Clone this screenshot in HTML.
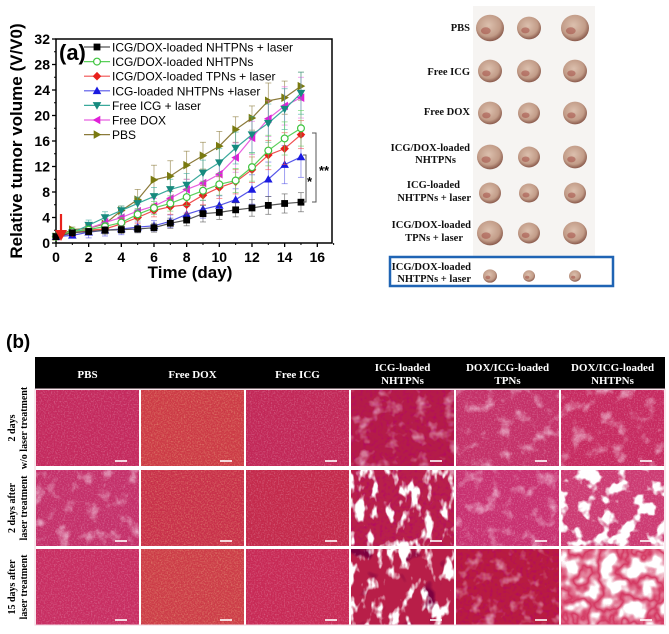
<!DOCTYPE html>
<html><head><meta charset="utf-8"><style>
html,body{margin:0;padding:0;background:#fff;}
body{width:669px;height:634px;overflow:hidden;position:relative;font-family:"Liberation Sans",sans-serif;}
svg{position:absolute;left:0;top:0;}
</style></head><body>
<svg id="fig" width="669" height="634" viewBox="0 0 669 634" xmlns="http://www.w3.org/2000/svg">
<defs>
 <filter id="speck" x="0" y="0" width="1" height="1">
  <feTurbulence type="fractalNoise" baseFrequency="0.7" numOctaves="2" seed="3"/>
  <feColorMatrix type="matrix" values="0 0 0 0 1  0 0 0 0 0.9  0 0 0 0 0.95  1.2 0 0 0 -0.55"/>
 </filter>
 <filter id="speckY" x="0" y="0" width="1" height="1">
  <feTurbulence type="fractalNoise" baseFrequency="0.7" numOctaves="2" seed="7"/>
  <feColorMatrix type="matrix" values="0 0 0 0 1  0 0 0 0 0.85  0 0 0 0 0.4  1.4 0 0 0 -0.6"/>
 </filter>
 <filter id="dark" x="0" y="0" width="1" height="1">
  <feTurbulence type="fractalNoise" baseFrequency="0.3" numOctaves="2" seed="11"/>
  <feColorMatrix type="matrix" values="0 0 0 0 0.45  0 0 0 0 0  0 0 0 0 0.15  1.6 0 0 0 -0.75"/>
 </filter>
 <filter id="mild" x="0" y="0" width="1" height="1">
  <feTurbulence type="fractalNoise" baseFrequency="0.07" numOctaves="3" seed="5"/>
  <feColorMatrix type="matrix" values="0 0 0 0 0.95  0 0 0 0 0.8  0 0 0 0 0.9  3 0 0 0 -1.6"/>
 </filter>
 <filter id="heavy" x="0" y="0" width="1" height="1">
  <feTurbulence type="fractalNoise" baseFrequency="0.09 0.05" numOctaves="3" seed="9"/>
  <feColorMatrix type="matrix" values="0 0 0 0 1  0 0 0 0 1  0 0 0 0 1  7 0 0 0 -3.7"/>
 </filter>
 <filter id="heavy2" x="0" y="0" width="1" height="1">
  <feTurbulence type="fractalNoise" baseFrequency="0.06" numOctaves="3" seed="21"/>
  <feColorMatrix type="matrix" values="0 0 0 0 1  0 0 0 0 1  0 0 0 0 1  8 0 0 0 -4.1"/>
 </filter>
 <filter id="blackb" x="0" y="0" width="1" height="1">
  <feTurbulence type="fractalNoise" baseFrequency="0.05" numOctaves="2" seed="31"/>
  <feColorMatrix type="matrix" values="0 0 0 0 0.2  0 0 0 0 0  0 0 0 0 0.05  7 0 0 0 -4.1"/>
 </filter>
 <filter id="net" x="0" y="0" width="1" height="1">
  <feTurbulence type="fractalNoise" baseFrequency="0.045" numOctaves="3" seed="41"/>
  <feColorMatrix type="matrix" values="0 0 0 0 0.66  0 0 0 0 0.04  0 0 0 0 0.12  1 0 0 0 0"/>
  <feComponentTransfer><feFuncA type="table" tableValues="0 0 0 0 0.6 1 0.6 0 0 0 0"/></feComponentTransfer>
 </filter>
 <radialGradient id="tum" cx="0.45" cy="0.4" r="0.6">
  <stop offset="0" stop-color="#dcc0ae"/><stop offset="0.7" stop-color="#c29c88"/><stop offset="1" stop-color="#8a5a4c"/>
 </radialGradient>
</defs>

<g id="chart">
 <rect x="56" y="39" width="276" height="204" fill="none" stroke="#000" stroke-width="1.5"/>
 <g id="yticks"></g>
 <g id="xticks"></g>
 <g id="series"></g>
 <text x="22" y="141" transform="rotate(-90 22 141)" text-anchor="middle" font-size="17" font-weight="bold">Relative tumor volume (V/V0)</text>
 <text x="190" y="278" text-anchor="middle" font-size="17" font-weight="bold">Time (day)</text>
 <text x="59" y="60" font-size="22" font-weight="bold">(a)</text>
 <g id="legend"></g>
 <g>
  <line x1="61" y1="214" x2="61" y2="234" stroke="#e8221c" stroke-width="2.2"/>
  <polygon points="55,230 67,230 61,241" fill="#e8221c"/>
 </g>
 <g id="sig"></g>
</g>

<g id="photos">
 <rect x="473" y="6" width="122" height="250" fill="#f6f4f2"/>
 <rect x="390" y="257" width="223" height="29" fill="none" stroke="#1f64b4" stroke-width="2.5"/>
 <g font-family="Liberation Serif, serif" font-weight="bold" font-size="10.5" text-anchor="end" fill="#111">
  <text x="470" y="31">PBS</text>
  <text x="470" y="75">Free ICG</text>
  <text x="470" y="115">Free DOX</text>
  <text x="470" y="151">ICG/DOX-loaded</text>
  <text x="456" y="163">NHTPNs</text>
  <text x="460" y="188">ICG-loaded</text>
  <text x="471" y="201">NHTPNs + laser</text>
  <text x="471" y="228">ICG/DOX-loaded</text>
  <text x="463" y="241">TPNs + laser</text>
  <text x="471" y="270">ICG/DOX-loaded</text>
  <text x="471" y="282">NHTPNs + laser</text>
 </g>
 <g id="tumors"></g>
</g>

<text x="6" y="348" font-size="19" font-weight="bold">(b)</text>
<g id="histo"></g>
</svg>

<script>
const days = [0,1,2,3,4,5,6,7,8,9,10,11,12,13,14,15];
const seriesNames = ["ICG/DOX-loaded NHTPNs + laser","ICG/DOX-loaded NHTPNs","ICG/DOX-loaded TPNs + laser","ICG-loaded NHTPNs +laser","Free ICG + laser","Free DOX","PBS"];
const valsNHTPNsLaser = [1,1.6,1.8,2.0,2.1,2.2,2.4,3.1,3.6,4.6,4.8,5.2,5.5,5.9,6.2,6.4];
const valsNHTPNs = [1,1.8,2.1,2.6,3.2,4.5,5.5,6.2,7.2,8.2,9.2,9.8,11.9,14.5,16.4,18.0];
const valsTPNsLaser = [1,1.6,2.0,2.2,3.0,4.0,5.1,5.7,6.0,7.5,8.7,9.6,11.5,13.8,14.8,17.0];
const valsICGNHTPNsLaser = [1,1.2,1.7,2.0,2.2,2.5,2.7,3.4,4.5,5.3,5.9,6.8,8.4,10.0,12.3,13.5];
const valsFreeICGLaser = [1,1.6,2.8,4.0,5.1,6.2,7.3,8.4,9.1,11.0,12.6,14.9,17.0,18.8,21.0,23.5];
const valsFreeDOX = [1,1.5,2.3,3.2,4.0,5.0,5.8,7.0,8.4,9.4,10.8,13.4,16.5,19.5,21.5,22.8];
const valsPBS = [1,2.1,2.3,3.0,5.1,6.8,9.9,10.5,12.2,13.7,15.2,17.8,19.6,22.3,22.8,24.6];
const errNHTPNsLaser = [0,0.3,0.5,0.6,0.6,0.6,0.7,0.8,0.9,1.3,1.1,1.1,1.3,1.4,1.5,1.5];
const errNHTPNs = [0,0.3,0.5,0.6,0.8,0.9,1.0,1.2,1.3,1.5,1.7,1.9,2.2,2.4,2.6,2.8];
const errTPNsLaser = [0,0.3,0.5,0.6,0.8,0.9,1.0,1.2,1.3,1.5,1.7,1.9,2.0,2.3,2.5,2.2];
const errICGNHTPNsLaser = [0,0.3,0.9,0.9,0.9,0.8,0.8,1.0,1.2,1.4,1.5,1.7,2.3,2.7,3.0,3.2];
const errFreeICGLaser = [0,0.4,0.8,0.9,0.7,1.0,1.4,1.6,1.8,2.0,2.2,2.5,2.8,3.0,3.2,3.3];
const errFreeDOX = [0,0.3,0.5,0.7,0.9,1.0,1.2,1.4,1.6,1.8,2.0,2.3,2.6,2.8,3.0,3.2];
const errPBS = [0,0.4,0.6,0.8,0.7,1.6,2.3,2.4,2.2,2.1,2.3,2.0,1.9,2.8,2.6,2.2];
const yTickLabels = [0,4,8,12,16,20,24,28,32];
const xTickLabels = [0,2,4,6,8,10,12,14,16];

const allVals = [valsNHTPNsLaser,valsNHTPNs,valsTPNsLaser,valsICGNHTPNsLaser,valsFreeICGLaser,valsFreeDOX,valsPBS];
const allErr = [errNHTPNsLaser,errNHTPNs,errTPNsLaser,errICGNHTPNsLaser,errFreeICGLaser,errFreeDOX,errPBS];
const styles = [
 {c:"#000",lc:"#555",m:"sq"},{c:"#3ec43e",lc:"#5ad05a",m:"oc"},{c:"#e8201c",lc:"#f05050",m:"di"},
 {c:"#1a1ae0",lc:"#5555e8",m:"tu"},{c:"#168a7e",lc:"#3aa99c",m:"td"},{c:"#e020d8",lc:"#e860e0",m:"tl"},{c:"#7a7a10",lc:"#8b7a3a",m:"tr"}];
const NS="http://www.w3.org/2000/svg";
const X0=56,X1=332,Y0=243,Y1=39,XMAX=16.9,YMAX=32;
function xs(v){return X0+(X1-X0)*v/XMAX;}
function ys(v){return Y0-(Y0-Y1)*v/YMAX;}
function mk(tag,attrs,parent){const e=document.createElementNS(NS,tag);for(const k in attrs)e.setAttribute(k,attrs[k]);parent.appendChild(e);return e;}
function marker(type,x,y,col,parent){
 const s=3.4;let e;
 if(type==="sq")e=mk("rect",{x:x-s,y:y-s,width:2*s,height:2*s,fill:col},parent);
 else if(type==="oc")e=mk("circle",{cx:x,cy:y,r:s,fill:"#fff",stroke:col,"stroke-width":1.2},parent);
 else if(type==="di")e=mk("polygon",{points:`${x},${y-4.3} ${x+4.3},${y} ${x},${y+4.3} ${x-4.3},${y}`,fill:col},parent);
 else if(type==="tu")e=mk("polygon",{points:`${x},${y-4.3} ${x+4.3},${y+3.3} ${x-4.3},${y+3.3}`,fill:col},parent);
 else if(type==="td")e=mk("polygon",{points:`${x},${y+4.3} ${x+4.3},${y-3.3} ${x-4.3},${y-3.3}`,fill:col},parent);
 else if(type==="tl")e=mk("polygon",{points:`${x-4.3},${y} ${x+3.3},${y-4.3} ${x+3.3},${y+4.3}`,fill:col},parent);
 else e=mk("polygon",{points:`${x+4.3},${y} ${x-3.3},${y-4.3} ${x-3.3},${y+4.3}`,fill:col},parent);
 return e;
}
const yt=document.getElementById("yticks");
yTickLabels.forEach(v=>{
 const l=mk("line",{x1:X0,x2:X0-4,y1:ys(v),y2:ys(v),stroke:"#000","stroke-width":1.3},yt);
 
 
 const t=mk("text",{x:X0-6,y:ys(v)+5,"text-anchor":"end","font-size":14,"font-weight":"bold"},yt);
 t.textContent=v;
 
 
 if(v<32){mk("line",{x1:X0,x2:X0-2,y1:ys(v+2),y2:ys(v+2),stroke:"#000"},yt);}
});
const xt=document.getElementById("xticks");
xTickLabels.forEach(v=>{
 const l=mk("line",{x1:xs(v),x2:xs(v),y1:Y0,y2:Y0+4,stroke:"#000","stroke-width":1.3},xt);
 
 
 mk("line",{x1:xs(v+1),x2:xs(v+1),y1:Y0,y2:Y0+2,stroke:"#000"},xt);
 const t=mk("text",{x:xs(v),y:Y0+19,"text-anchor":"middle","font-size":14,"font-weight":"bold"},xt);
 t.textContent=v;
 
 
});
const sg=document.getElementById("series");
for(let i=allVals.length-1;i>=0;i--){
 const g=mk("g",{},sg);
 
 
 const st=styles[i],vals=allVals[i],err=allErr[i];
 days.forEach((d,j)=>{ if(err[j]>0){
  const x=xs(d);
  mk("line",{x1:x,x2:x,y1:ys(vals[j]-err[j]),y2:ys(vals[j]+err[j]),stroke:st.lc,"stroke-width":0.8,opacity:0.7},g);
  mk("line",{x1:x-3,x2:x+3,y1:ys(vals[j]+err[j]),y2:ys(vals[j]+err[j]),stroke:st.lc,"stroke-width":0.8,opacity:0.7},g);
  mk("line",{x1:x-3,x2:x+3,y1:ys(vals[j]-err[j]),y2:ys(vals[j]-err[j]),stroke:st.lc,"stroke-width":0.8,opacity:0.7},g);
 }});
 const pl=mk("polyline",{points:days.map((d,j)=>xs(d)+","+ys(vals[j])).join(" "),fill:"none",stroke:st.lc,"stroke-width":1.2},g);
 
 
 days.forEach((d,j)=>{
  const m=marker(st.m,xs(d),ys(vals[j]),st.c,g);
  
  
 });
}
const lg=document.getElementById("legend");
seriesNames.forEach((n,i)=>{
 const y=47+14.6*i;
 const g=mk("g",{},lg);
 
 
 mk("line",{x1:84,x2:110,y1:y,y2:y,stroke:styles[i].lc,"stroke-width":1.2},g);
 marker(styles[i].m,97,y,styles[i].c,g);
 const t=mk("text",{x:112,y:y+4.5,"font-size":12},g);
 t.textContent=n;
});
const sig=document.getElementById("sig");
mk("path",{d:"M312,133 L316,133 L316,202 L312,202",fill:"none",stroke:"#555","stroke-width":1},sig);
mk("path",{d:"M303,155 L306,155 L306,202 L303,202",fill:"none",stroke:"#555","stroke-width":1},sig);
let t1=mk("text",{x:319,y:175,"font-size":13,"font-weight":"bold"},sig);t1.textContent="**";
let t2=mk("text",{x:307,y:186,"font-size":13,"font-weight":"bold"},sig);t2.textContent="*";

const tum=document.getElementById("tumors");
const tumorRows=[[28,[14,12,14]],[71,[12,12,12]],[113,[12,11,12]],[157,[13,11,12]],[193,[11,10,11]],[233,[13,11,12]],[276,[7,6,6]]];
const tumorCols=[490,529,575];
tumorRows.forEach((r,ri)=>{
 tumorCols.forEach((cx,ci)=>{
  const rad=r[1][ci];
  const e=mk("ellipse",{cx:cx,cy:r[0],rx:rad,ry:rad*0.95,fill:"url(#tum)"},tum);
  
  
  mk("ellipse",{cx:cx-rad*0.3,cy:r[0]+rad*0.2,rx:rad*0.35,ry:rad*0.25,fill:"#a0443c",opacity:0.5},tum);
 });
});

const H=document.getElementById("histo");
const colNames=[["PBS"],["Free DOX"],["Free ICG"],["ICG-loaded","NHTPNs"],["DOX/ICG-loaded","TPNs"],["DOX/ICG-loaded","NHTPNs"]];
const rowNames=[["2 days","w/o laser treatment"],["2 days after","laser treatment"],["15 days after","laser treatment"]];
const cx0=35,cw=105,rowY=[389,469,548],rh=78;
const hdr=mk("rect",{x:cx0,y:357,width:cw*6,height:32,fill:"#000"},H);


colNames.forEach((n,i)=>{
 const t=mk("text",{x:cx0+cw*i+cw/2,y:n.length===1?378:371,"text-anchor":"middle","font-family":"Liberation Serif, serif","font-weight":"bold","font-size":11,fill:"#fff"},H);
 
 
 n.forEach((s,k)=>{const ts=mk("tspan",{x:cx0+cw*i+cw/2,dy:k?13:0},t);ts.textContent=s;});
});
rowNames.forEach((n,r)=>{
 const cy=rowY[r]+rh/2;
 const t=mk("text",{transform:`translate(15 ${cy}) rotate(-90)`,"text-anchor":"middle","font-family":"Liberation Serif, serif","font-weight":"bold","font-size":10},H);
 
 
 n.forEach((s,k)=>{const ts=mk("tspan",{x:0,y:k?12:0},t);ts.textContent=s;});
});
const cellBase=[["#c42a5e","#cc3a46","#c22858","#b41c48","#c43068","#c62a60"],
 ["#c4306a","#c8304a","#c42a4c","#b8204a","#c83070","#cc3a72"],
 ["#c82e62","#cc3c48","#c82a56","#b81e48","#b81c40","#ffffff"]];
const cellFx=[[["speck"],["speckY"],["speck"],["dark","mild"],["mild","speck"],["mild","speck"]],
 [["mild","speck"],["speckY"],["speck"],["dark","heavy"],["mild","speck"],["heavy2","speck"]],
 [["speck"],["speckY"],["speck"],["blackb","heavy"],["dark","mild"],["net"]]];
rowY.forEach((y,r)=>{
 for(let c=0;c<6;c++){
  const x=cx0+cw*c+1;
  const g=mk("g",{},H);
  
  
  mk("rect",{x:x,y:y+1,width:cw-2,height:rh-2,fill:cellBase[r][c]},g);
  cellFx[r][c].forEach(f=>{
   mk("rect",{x:x,y:y+1,width:cw-2,height:rh-2,fill:"#fff",filter:`url(#${f})`,opacity:f==="mild"?0.6:(f.startsWith("speck")?0.55:1)},g);
  });
  mk("line",{x1:x+cw-26,x2:x+cw-14,y1:y+rh-6,y2:y+rh-6,stroke:"#fff","stroke-width":1.6},g);
 }
});
mk("rect",{x:cx0,y:389,width:cw*6,height:236,fill:"none",stroke:"#f0d0dc","stroke-width":1},H);
</script>
</body></html>
